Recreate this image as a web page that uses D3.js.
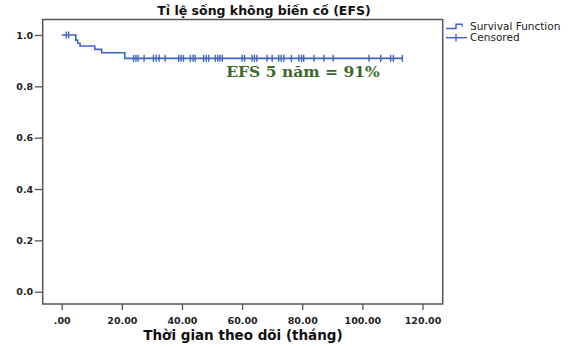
<!DOCTYPE html>
<html>
<head>
<meta charset="utf-8">
<script src="https://cdn.jsdelivr.net/npm/d3@7"></script>
<style>
  body { margin: 0; background: #fff; }
  svg { display: block; }
</style>
</head>
<body>
<div id="chart"></div>
<script>
// event times (months) and survival after each step
const eventTimes = [0, 4.7, 5.3, 6.1, 11.0, 13.3, 21.0];
const survival = [1.0, 0.98, 0.968, 0.957, 0.944, 0.931, 0.909];
const lastTime = 113.3;

// censored observations (months)
const censorTimes = [
  1.5, 2.3,
  23.9, 24.7, 25.4, 27.4, 30.5, 31.4, 32.4, 34.4, 38.9, 39.7, 40.5,
  42.8, 43.7, 44.4, 47.2, 48.1, 48.9, 51.1, 51.9, 52.6, 53.4, 60.0,
  60.8, 63.3, 64.1, 64.9, 68.3, 70.0, 72.2, 73.0, 73.9, 76.4, 78.9,
  79.8, 80.5, 83.9, 87.2, 90.3, 102.2, 106.1, 109.4, 110.3, 113.3
];

const xTicks = [0, 20, 40, 60, 80, 100, 120];
const yTicks = [0, 0.2, 0.4, 0.6, 0.8, 1.0];

const title = 'Tỉ lệ sống không biến cố (EFS)';
const xTitle = 'Thời gian theo dõi (tháng)';
const note = 'EFS 5 năm = 91%';
const legendItems = ['Survival Function', 'Censored'];

const lineColor = '#4163c0';
const frameColor = '#555';
const sans = '"DejaVu Sans", Verdana, sans-serif';

const width = 570, height = 347;
const frame = { left: 42.7, right: 442.7, top: 19.5, bottom: 304 };

const svg = d3.select('#chart')
  .append('svg')
  .attr('width', width)
  .attr('height', height)
  .style('font-family', sans);

const x = d3.scaleLinear().domain([0, 120]).range([61.7, 422.5]);
const y = d3.scaleLinear().domain([0, 1]).range([291.7, 35]);

// frame
svg.append('rect')
  .attr('x', frame.left)
  .attr('y', frame.top)
  .attr('width', frame.right - frame.left)
  .attr('height', frame.bottom - frame.top)
  .attr('fill', 'none')
  .attr('stroke', frameColor)
  .attr('stroke-width', 1.5);

// axes
svg.append('g')
  .attr('transform', `translate(0,${frame.bottom})`)
  .call(d3.axisBottom(x).tickValues(xTicks).tickSize(6).tickSizeOuter(0)
    .tickFormat(d => d === 0 ? '.00' : d.toFixed(2)))
  .call(g => g.select('.domain').remove())
  .call(g => g.selectAll('.tick line').attr('stroke', frameColor).attr('stroke-width', 1.3))
  .call(g => g.selectAll('.tick text')
    .attr('fill', '#222').attr('dy', '1.2em')
    .style('font-size', '9.5px').style('font-weight', 'bold').style('font-family', sans));

svg.append('g')
  .attr('transform', `translate(${frame.left},0)`)
  .call(d3.axisLeft(y).tickValues(yTicks).tickSize(8).tickSizeOuter(0)
    .tickFormat(d => d.toFixed(1)))
  .call(g => g.select('.domain').remove())
  .call(g => g.selectAll('.tick line').attr('stroke', frameColor).attr('stroke-width', 1.3))
  .call(g => g.selectAll('.tick text')
    .attr('fill', '#222').attr('x', -9.5)
    .style('font-size', '9.5px').style('font-weight', 'bold').style('font-family', sans));

// survival curve
const steps = eventTimes.map((t, i) => [t, survival[i]]);
steps.push([lastTime, survival[survival.length - 1]]);

const line = d3.line()
  .x(d => x(d[0]))
  .y(d => y(d[1]))
  .curve(d3.curveStepAfter);

svg.append('path')
  .datum(steps)
  .attr('fill', 'none')
  .attr('stroke', lineColor)
  .attr('stroke-width', 1.6)
  .attr('d', line);

const survAt = t => {
  let s = 1;
  eventTimes.forEach((et, i) => { if (et <= t) s = survival[i]; });
  return s;
};

svg.selectAll('.censor')
  .data(censorTimes)
  .enter()
  .append('line')
  .attr('class', 'censor')
  .attr('x1', d => x(d))
  .attr('x2', d => x(d))
  .attr('y1', d => y(survAt(d)) - 3.5)
  .attr('y2', d => y(survAt(d)) + 3.5)
  .attr('stroke', lineColor)
  .attr('stroke-width', 1.4);

// titles
svg.append('text')
  .attr('x', 264)
  .attr('y', 15)
  .attr('text-anchor', 'middle')
  .style('font-size', '12.5px')
  .style('font-weight', 'bold')
  .attr('fill', '#111')
  .text(title);

svg.append('text')
  .attr('x', 243)
  .attr('y', 340)
  .attr('text-anchor', 'middle')
  .style('font-size', '13.5px')
  .style('font-weight', 'bold')
  .attr('fill', '#111')
  .text(xTitle);

svg.append('text')
  .attr('x', 303)
  .attr('y', 77)
  .attr('text-anchor', 'middle')
  .style('font-family', '"DejaVu Serif", serif')
  .style('font-size', '15.5px')
  .style('font-weight', 'bold')
  .attr('fill', '#3d6a2c')
  .text(note);

// legend
const legend = svg.append('g');
legend.append('path')
  .attr('d', 'M446,28.5 H456 V24.3 H462 V26.5')
  .attr('fill', 'none')
  .attr('stroke', lineColor)
  .attr('stroke-width', 1.4);
legend.append('line')
  .attr('x1', 446).attr('x2', 467).attr('y1', 37.7).attr('y2', 37.7)
  .attr('stroke', lineColor).attr('stroke-width', 1.4);
legend.append('line')
  .attr('x1', 456).attr('x2', 456).attr('y1', 34).attr('y2', 41.5)
  .attr('stroke', lineColor).attr('stroke-width', 1.4);

legend.selectAll('text')
  .data(legendItems)
  .enter()
  .append('text')
  .attr('x', 470)
  .attr('y', (d, i) => 30 + i * 11)
  .style('font-size', '10.5px')
  .attr('fill', '#222')
  .text(d => d);
</script>
</body>
</html>
